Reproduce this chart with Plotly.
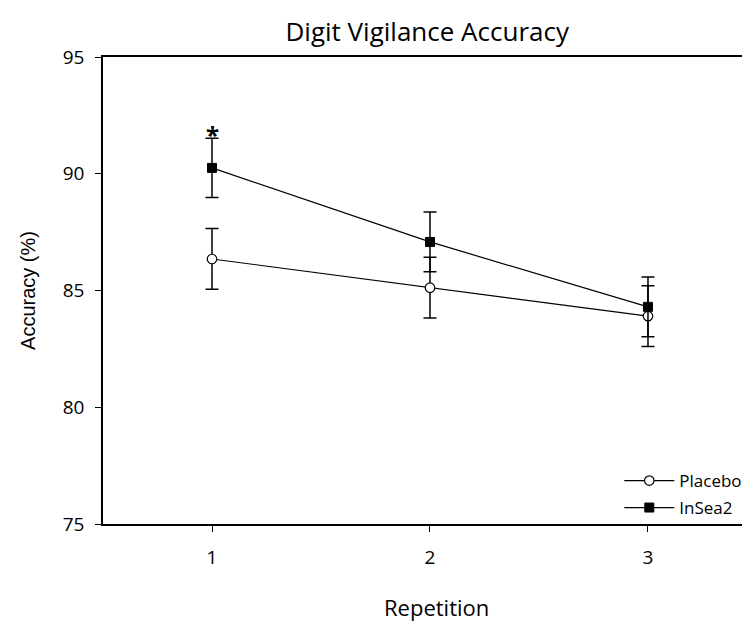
import plotly.graph_objects as go

repetition = [1, 2, 3]
placebo = [86.35, 85.12, 83.9]
placebo_err = [1.3, 1.3, 1.3]
insea2 = [90.25, 87.08, 84.3]
insea2_err = [1.27, 1.28, 1.28]
y_ticks = [75, 80, 85, 90, 95]
x_ticks = [1, 2, 3]

FONT = "Open Sans"

fig = go.Figure()
fig.add_trace(go.Scatter(
    x=repetition, y=placebo, name="Placebo", mode="lines+markers", legend="legend",
    line=dict(color="black", width=1.2),
    marker=dict(symbol="circle", size=9.5, color="white", line=dict(color="black", width=1.2)),
    error_y=dict(type="data", array=placebo_err, visible=True, color="black", thickness=1.5, width=6.5),
))
fig.add_trace(go.Scatter(
    x=repetition, y=insea2, name="InSea2", mode="lines+markers", legend="legend2",
    line=dict(color="black", width=1.2),
    marker=dict(symbol="square", size=9, color="black", line=dict(color="black", width=1)),
    error_y=dict(type="data", array=insea2_err, visible=True, color="black", thickness=1.5, width=6.5),
))

fig.add_annotation(x=1, y=91.7, text="<b>*</b>", showarrow=False, xref="x", yref="y",
                   font=dict(family=FONT, size=24, color="black"), yanchor="middle")
fig.add_annotation(x=0.516, y=-0.178, xref="paper", yref="paper", text="Repetition",
                   showarrow=False, xanchor="center", yanchor="middle",
                   font=dict(family=FONT, size=22, color="black"))

leg_common = dict(xanchor="left", yanchor="middle", bgcolor="rgba(0,0,0,0)",
                  font=dict(family=FONT, size=17, color="black"), itemwidth=50)

fig.update_layout(
    width=742, height=613,
    margin=dict(l=95, r=0, t=49, b=97),
    paper_bgcolor="white", plot_bgcolor="white",
    font=dict(family=FONT, color="black", size=16),
    title=dict(text="Digit Vigilance Accuracy", x=0.565, xanchor="center", y=0.961, yanchor="middle",
               font=dict(family=FONT, size=26, color="black")),
    showlegend=True,
    legend=dict(x=0.798, y=0.092, **leg_common),
    legend2=dict(x=0.798, y=0.0343, **leg_common),
)
fig.update_xaxes(
    range=[0.5, 3.468], tickvals=x_ticks, ticktext=[str(v) for v in x_ticks],
    showline=True, linecolor="black", linewidth=1.5, mirror=True,
    ticks="outside", ticklen=6, tickcolor="black", tickwidth=1,
    showgrid=False, zeroline=False, ticklabelstandoff=9, automargin=False,
    tickfont=dict(family=FONT, size=19),
)
fig.update_yaxes(
    range=[75, 95], tickvals=y_ticks,
    showline=True, linecolor="black", linewidth=1.5,
    ticks="outside", ticklen=6, tickcolor="black", tickwidth=1,
    showgrid=False, zeroline=False, ticklabelstandoff=7, automargin=False,
    tickfont=dict(family=FONT, size=19),
    title=dict(text="Accuracy (%)", font=dict(family="Liberation Sans", size=20), standoff=22),
)

fig.write_html("out.html")
